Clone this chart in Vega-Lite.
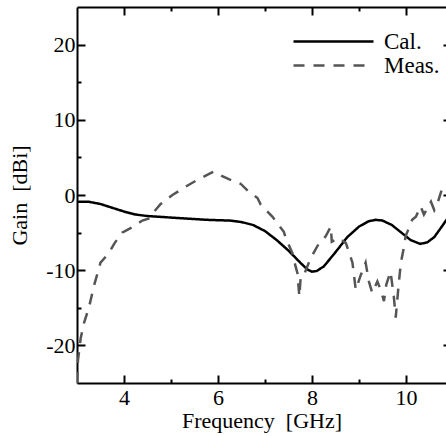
{
  "$schema": "https://vega.github.io/schema/vega-lite/v6.json",
  "autosize": "none",
  "width": 369,
  "height": 376,
  "padding": {"left": 77, "top": 7, "right": 0, "bottom": 53},
  "background": "white",
  "config": {
    "view": {"stroke": null},
    "font": "Liberation Serif",
    "axis": {
      "domainColor": "black",
      "domainWidth": 2,
      "tickColor": "black",
      "tickWidth": 2,
      "grid": false,
      "labelFont": "Liberation Serif",
      "labelFontSize": 22,
      "labelColor": "black",
      "titleFont": "Liberation Serif",
      "titleFontSize": 22,
      "titleFontWeight": "normal",
      "titleColor": "black"
    },
    "legend": {
      "labelFont": "Liberation Serif"
    }
  },
  "datasets": {
    "curves": [
      {"f": 3.0, "g": -0.9, "series": "Cal."},
      {"f": 3.25, "g": -0.9, "series": "Cal."},
      {"f": 3.5, "g": -1.2, "series": "Cal."},
      {"f": 3.75, "g": -1.7, "series": "Cal."},
      {"f": 4.0, "g": -2.2, "series": "Cal."},
      {"f": 4.25, "g": -2.6, "series": "Cal."},
      {"f": 4.5, "g": -2.8, "series": "Cal."},
      {"f": 4.75, "g": -2.9, "series": "Cal."},
      {"f": 5.0, "g": -3.0, "series": "Cal."},
      {"f": 5.25, "g": -3.1, "series": "Cal."},
      {"f": 5.5, "g": -3.2, "series": "Cal."},
      {"f": 5.75, "g": -3.3, "series": "Cal."},
      {"f": 6.0, "g": -3.35, "series": "Cal."},
      {"f": 6.25, "g": -3.4, "series": "Cal."},
      {"f": 6.5, "g": -3.6, "series": "Cal."},
      {"f": 6.75, "g": -4.0, "series": "Cal."},
      {"f": 7.0, "g": -4.8, "series": "Cal."},
      {"f": 7.25, "g": -6.0, "series": "Cal."},
      {"f": 7.5, "g": -7.4, "series": "Cal."},
      {"f": 7.75, "g": -9.0, "series": "Cal."},
      {"f": 7.9, "g": -9.9, "series": "Cal."},
      {"f": 8.0, "g": -10.2, "series": "Cal."},
      {"f": 8.1, "g": -10.1, "series": "Cal."},
      {"f": 8.25, "g": -9.5, "series": "Cal."},
      {"f": 8.5, "g": -7.6, "series": "Cal."},
      {"f": 8.75, "g": -5.6, "series": "Cal."},
      {"f": 9.0, "g": -4.2, "series": "Cal."},
      {"f": 9.2, "g": -3.5, "series": "Cal."},
      {"f": 9.35, "g": -3.3, "series": "Cal."},
      {"f": 9.5, "g": -3.4, "series": "Cal."},
      {"f": 9.7, "g": -4.0, "series": "Cal."},
      {"f": 9.9, "g": -5.0, "series": "Cal."},
      {"f": 10.1, "g": -6.0, "series": "Cal."},
      {"f": 10.3, "g": -6.5, "series": "Cal."},
      {"f": 10.45, "g": -6.3, "series": "Cal."},
      {"f": 10.6, "g": -5.6, "series": "Cal."},
      {"f": 10.75, "g": -4.3, "series": "Cal."},
      {"f": 10.85, "g": -3.4, "series": "Cal."},
      {"f": 11.0, "g": -2.0, "series": "Cal."},
      {"f": 3.0, "g": -25, "series": "Meas."},
      {"f": 3.02, "g": -22, "series": "Meas."},
      {"f": 3.08, "g": -19, "series": "Meas."},
      {"f": 3.15, "g": -17, "series": "Meas."},
      {"f": 3.26, "g": -14.8, "series": "Meas."},
      {"f": 3.36, "g": -12.1, "series": "Meas."},
      {"f": 3.5, "g": -9.0, "series": "Meas."},
      {"f": 3.68, "g": -7.7, "series": "Meas."},
      {"f": 3.8, "g": -6.4, "series": "Meas."},
      {"f": 3.96, "g": -5.0, "series": "Meas."},
      {"f": 4.14, "g": -4.4, "series": "Meas."},
      {"f": 4.39, "g": -3.4, "series": "Meas."},
      {"f": 4.53, "g": -3.1, "series": "Meas."},
      {"f": 4.67, "g": -2.0, "series": "Meas."},
      {"f": 4.78, "g": -1.2, "series": "Meas."},
      {"f": 5.03, "g": 0.0, "series": "Meas."},
      {"f": 5.31, "g": 1.1, "series": "Meas."},
      {"f": 5.53, "g": 1.9, "series": "Meas."},
      {"f": 5.81, "g": 2.8, "series": "Meas."},
      {"f": 5.91, "g": 3.1, "series": "Meas."},
      {"f": 6.0, "g": 2.9, "series": "Meas."},
      {"f": 6.09, "g": 2.5, "series": "Meas."},
      {"f": 6.23, "g": 2.1, "series": "Meas."},
      {"f": 6.48, "g": 1.5, "series": "Meas."},
      {"f": 6.66, "g": 0.4, "series": "Meas."},
      {"f": 6.84, "g": -0.4, "series": "Meas."},
      {"f": 6.91, "g": -1.3, "series": "Meas."},
      {"f": 7.16, "g": -2.9, "series": "Meas."},
      {"f": 7.4, "g": -4.9, "series": "Meas."},
      {"f": 7.44, "g": -5.7, "series": "Meas."},
      {"f": 7.58, "g": -7.7, "series": "Meas."},
      {"f": 7.65, "g": -9.5, "series": "Meas."},
      {"f": 7.69, "g": -10.4, "series": "Meas."},
      {"f": 7.73, "g": -13.5, "series": "Meas."},
      {"f": 7.76, "g": -10.8, "series": "Meas."},
      {"f": 7.83, "g": -10.6, "series": "Meas."},
      {"f": 7.97, "g": -8.4, "series": "Meas."},
      {"f": 8.15, "g": -6.4, "series": "Meas."},
      {"f": 8.29, "g": -5.5, "series": "Meas."},
      {"f": 8.4, "g": -4.2, "series": "Meas."},
      {"f": 8.42, "g": -6.2, "series": "Meas."},
      {"f": 8.57, "g": -5.7, "series": "Meas."},
      {"f": 8.72, "g": -6.4, "series": "Meas."},
      {"f": 8.86, "g": -9.0, "series": "Meas."},
      {"f": 8.93, "g": -12.6, "series": "Meas."},
      {"f": 9.04, "g": -10.6, "series": "Meas."},
      {"f": 9.14, "g": -9.0, "series": "Meas."},
      {"f": 9.21, "g": -11.5, "series": "Meas."},
      {"f": 9.28, "g": -13.0, "series": "Meas."},
      {"f": 9.39, "g": -11.5, "series": "Meas."},
      {"f": 9.46, "g": -12.6, "series": "Meas."},
      {"f": 9.53, "g": -14.1, "series": "Meas."},
      {"f": 9.58, "g": -11.9, "series": "Meas."},
      {"f": 9.67, "g": -10.2, "series": "Meas."},
      {"f": 9.74, "g": -13.5, "series": "Meas."},
      {"f": 9.78, "g": -16.3, "series": "Meas."},
      {"f": 9.84, "g": -12.1, "series": "Meas."},
      {"f": 9.89, "g": -9.0, "series": "Meas."},
      {"f": 9.96, "g": -6.8, "series": "Meas."},
      {"f": 9.99, "g": -5.5, "series": "Meas."},
      {"f": 10.13, "g": -3.3, "series": "Meas."},
      {"f": 10.21, "g": -2.9, "series": "Meas."},
      {"f": 10.31, "g": -1.5, "series": "Meas."},
      {"f": 10.38, "g": -2.6, "series": "Meas."},
      {"f": 10.45, "g": -1.8, "series": "Meas."},
      {"f": 10.53, "g": -0.9, "series": "Meas."},
      {"f": 10.6, "g": -2.0, "series": "Meas."},
      {"f": 10.67, "g": -1.1, "series": "Meas."},
      {"f": 10.76, "g": 0.7, "series": "Meas."},
      {"f": 10.85, "g": 1.0, "series": "Meas."}
    ]
  },
  "data": {"name": "curves"},
  "layer": [
    {
      "mark": {"type": "line", "strokeWidth": 2.5, "clip": true},
      "encoding": {
        "x": {
          "field": "f", "type": "quantitative",
          "scale": {"domain": [3, 10.85], "nice": false, "zero": false},
          "axis": {
            "orient": "bottom", "values": [4, 6, 8, 10], "tickSize": -8,
            "labelPadding": 12, "labelExpr": "'' + datum.value",
            "title": "Frequency\u00a0 [GHz]", "titlePadding": 2
          }
        },
        "y": {
          "field": "g", "type": "quantitative",
          "scale": {"domain": [-25, 25], "nice": false, "zero": false},
          "axis": {
            "orient": "left", "values": [-20, -10, 0, 10, 20], "tickSize": -8,
            "labelPadding": 10, "labelExpr": "'' + datum.value",
            "title": "Gain\u00a0 [dBi]", "titlePadding": 14
          }
        },
        "color": {
          "field": "series", "type": "nominal",
          "scale": {"domain": ["Cal.", "Meas."], "range": ["#000000", "#555555"]},
          "legend": {
            "orient": "none", "legendX": 245, "legendY": 23, "title": null,
            "symbolType": "M-4,0H4", "symbolSize": 400, "symbolStrokeWidth": 2.5,
            "labelFont": "Liberation Serif", "labelFontSize": 23, "labelColor": "black",
            "labelOffset": 39, "rowPadding": 0
          }
        },
        "strokeDash": {
          "field": "series", "type": "nominal",
          "scale": {"domain": ["Cal.", "Meas."], "range": [[1, 0], [11, 9]]},
          "legend": null
        }
      }
    },
    {
      "mark": {"type": "point", "opacity": 0},
      "encoding": {
        "x": {"field": "f", "type": "quantitative",
          "axis": {"orient": "bottom", "values": [5, 7, 9], "tickSize": -4, "labels": false, "domain": false, "title": null}},
        "y": {"field": "g", "type": "quantitative",
          "axis": {"orient": "left", "values": [-15, -5, 5, 15], "tickSize": -4, "labels": false, "domain": false, "title": null}}
      }
    },
    {
      "mark": {"type": "point", "opacity": 0},
      "encoding": {
        "x": {"field": "f", "type": "quantitative",
          "axis": {"orient": "top", "values": [4, 6, 8, 10], "tickSize": -8, "labels": false, "domain": true, "title": null}},
        "y": {"field": "g", "type": "quantitative",
          "axis": {"orient": "right", "values": [-20, -10, 0, 10, 20], "tickSize": -8, "offset": 5, "labels": false, "domain": false, "title": null}}
      }
    },
    {
      "mark": {"type": "point", "opacity": 0},
      "encoding": {
        "x": {"field": "f", "type": "quantitative",
          "axis": {"orient": "top", "values": [5, 7, 9], "tickSize": -4, "labels": false, "domain": false, "title": null}},
        "y": {"field": "g", "type": "quantitative",
          "axis": {"orient": "right", "values": [-15, -5, 5, 15], "tickSize": -4, "offset": 5, "labels": false, "domain": false, "title": null}}
      }
    }
  ],
  "resolve": {"axis": {"x": "independent", "y": "independent"}}
}
